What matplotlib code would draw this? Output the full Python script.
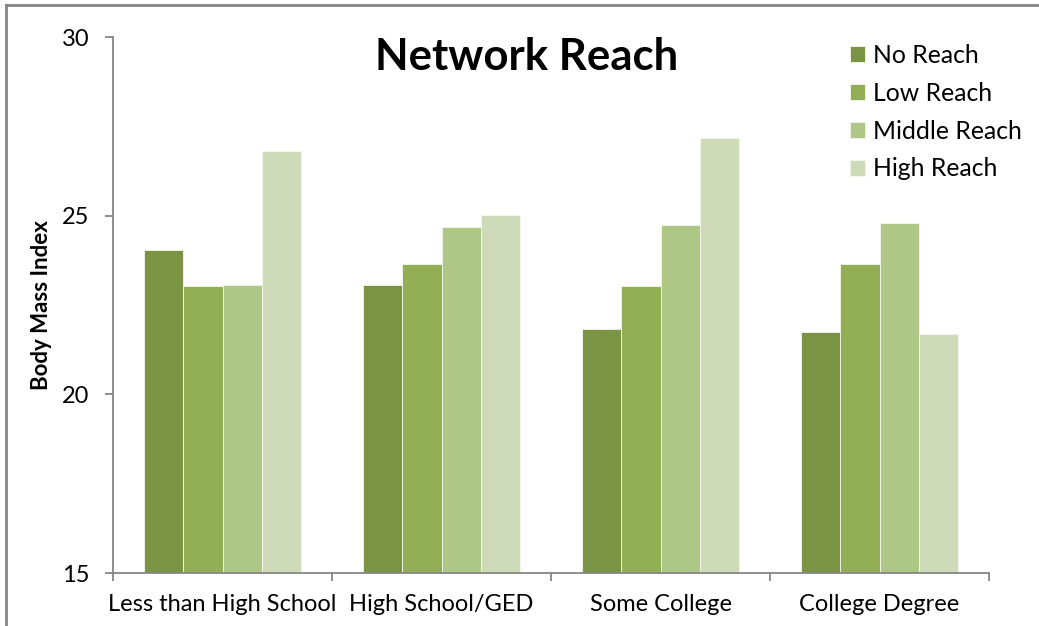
import matplotlib.pyplot as plt
import numpy as np
from matplotlib.lines import Line2D

plt.rcParams['font.family'] = ['Lato', 'DejaVu Sans']

categories = ["Less than High School", "High School/GED", "Some College", "College Degree"]
series_names = ["No Reach", "Low Reach", "Middle Reach", "High Reach"]
no_reach = [24.03, 23.05, 21.83, 21.75]
low_reach = [23.02, 23.65, 23.03, 23.65]
middle_reach = [23.05, 24.67, 24.75, 24.80]
high_reach = [26.82, 25.02, 27.17, 21.69]
yticks = [15, 20, 25, 30]

colors = ["#7A9443", "#92AF56", "#AEC686", "#CFDBB8"]
axis_gray = "#868686"

fig = plt.figure(figsize=(10.39, 6.26), dpi=100)
ax = fig.add_axes([113 / 1039, 53 / 626, 876 / 1039, 536 / 626])

x = np.arange(len(categories))
w = 0.179
for i, (vals, name) in enumerate(zip([no_reach, low_reach, middle_reach, high_reach], series_names)):
    ax.bar(x + (i - 1.5) * w, np.array(vals) - 15, bottom=15, width=w,
           color=colors[i], edgecolor="#F4F7EE", linewidth=0.6, label=name, zorder=2)

ax.set_xlim(-0.5, 3.5)
ax.set_ylim(15, 30)

for s in ["top", "right"]:
    ax.spines[s].set_visible(False)
for s in ["left", "bottom"]:
    ax.spines[s].set_color(axis_gray)
    ax.spines[s].set_linewidth(1.3)

ax.set_yticks(yticks)
ax.set_yticklabels([str(t) for t in yticks], fontsize=17)
ax.tick_params(axis="y", direction="out", length=6, width=1.3, color=axis_gray, pad=11)

ax.set_xticks(np.arange(-0.5, 4.0, 1.0))
ax.set_xticklabels([])
ax.set_xticks(x, minor=True)
ax.set_xticklabels(categories, minor=True, fontsize=17)
ax.tick_params(axis="x", which="major", direction="out", length=6, width=1.3, color=axis_gray)
ax.tick_params(axis="x", which="minor", length=0, pad=15)

ax.set_ylabel("Body Mass Index", fontsize=16, fontweight="bold", labelpad=7)

fig.text(527 / 1039, 1 - 57 / 626, "Network Reach", fontsize=31.5, fontweight="bold",
         ha="center", va="center")

leg = ax.legend(loc="upper left", bbox_to_anchor=(840 / 1039, 1 - 34 / 626),
                bbox_transform=fig.transFigure, frameon=False, fontsize=17.8,
                handlelength=0.6, handleheight=0.6, handletextpad=0.35,
                labelspacing=0.6, borderaxespad=0)

# chart frame lines along the top and left edges
fig.add_artist(Line2D([6 / 1039, 6 / 1039], [0, 1 - 5 / 626], transform=fig.transFigure,
                      color=axis_gray, linewidth=2))
fig.add_artist(Line2D([6 / 1039, 1], [1 - 5 / 626, 1 - 5 / 626], transform=fig.transFigure,
                      color=axis_gray, linewidth=2))

fig.savefig("out.png", dpi=100)
